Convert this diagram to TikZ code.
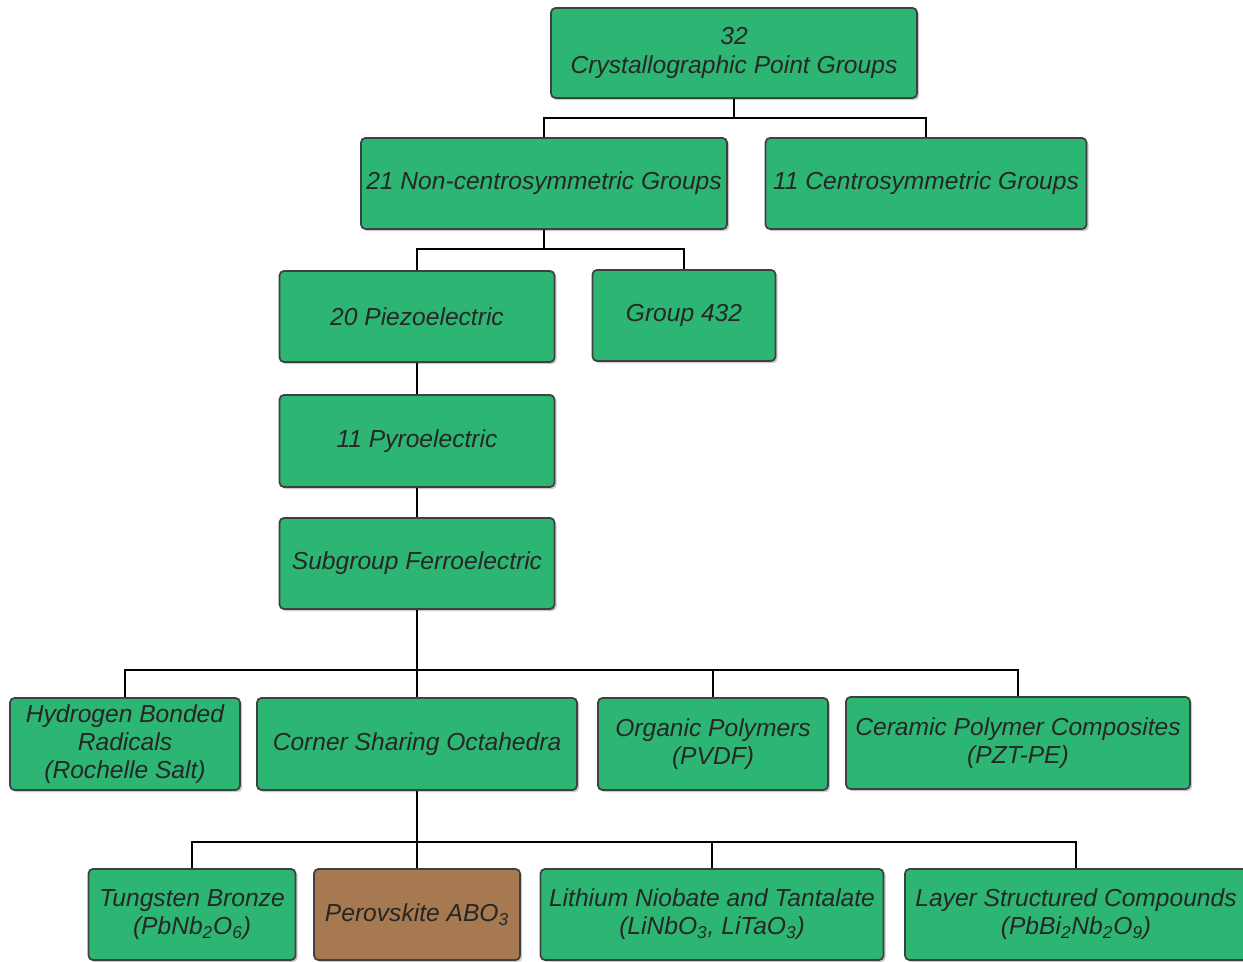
\documentclass[tikz,border=0pt]{standalone}
\usepackage{fontspec}
\setmainfont{Liberation Sans}
\usetikzlibrary{shadows}
\definecolor{boxgreen}{HTML}{2DB673}
\definecolor{boxbrown}{HTML}{A77950}
\tikzset{
  grpbox/.style={draw=black!75, line width=1pt, fill=boxgreen, rounded corners=2.5pt,
    align=center, inner sep=2pt, text=black!85, font=\fontsize{14}{16}\selectfont\itshape,
    drop shadow={shadow xshift=1.2pt, shadow yshift=-1.2pt, fill=black!35, opacity=0.6}},
  link/.style={line width=1.1pt}
}
\begin{document}
\begin{tikzpicture}[x=0.02cm, y=-0.02cm]
        \useasboundingbox (0,0) rectangle (1243,962);
        % Nodes (top to bottom)
        \node (points) at (734,53) [grpbox, minimum width=7.32cm, minimum height=1.8cm] {32\\Crystallographic Point Groups};

        \node (noncentro) at (544,183.5) [grpbox, minimum width=7.32cm, minimum height=1.82cm] {21 Non-centrosymmetric Groups};
        \node (centro) at (926,183.5) [grpbox, minimum width=6.42cm, minimum height=1.82cm] {11 Centrosymmetric Groups};

        \node (piezo) at (417,316.5) [grpbox, minimum width=5.5cm, minimum height=1.82cm] {20 Piezoelectric};
        \node (g432) at (684,315.5) [grpbox, minimum width=3.66cm, minimum height=1.82cm] {Group 432};

        \node (pyro) at (417,441) [grpbox, minimum width=5.5cm, minimum height=1.84cm] {11 Pyroelectric};
        \node (ferro) at (417,563.5) [grpbox, minimum width=5.5cm, minimum height=1.82cm] {Subgroup Ferroelectric};

        \node (hydrogen) at (125,744) [grpbox, minimum width=4.6cm, minimum height=1.84cm] {Hydrogen Bonded\\Radicals\\(Rochelle Salt)};
        \node (corner) at (417,744) [grpbox, minimum width=6.4cm, minimum height=1.84cm] {Corner Sharing Octahedra};
        \node (organic) at (713,744) [grpbox, minimum width=4.6cm, minimum height=1.84cm] {Organic Polymers\\(PVDF)};
        \node (ceramic) at (1018,743) [grpbox, minimum width=6.88cm, minimum height=1.84cm] {Ceramic Polymer Composites\\(PZT-PE)};

        \node (tungsten) at (192,914.5) [grpbox, minimum width=4.14cm, minimum height=1.82cm] {Tungsten Bronze\\(PbNb\textsubscript{2}O\textsubscript{6})};
        \node (perovskite) at (417,914.5) [grpbox, fill=boxbrown, minimum width=4.12cm, minimum height=1.82cm] {Perovskite ABO\textsubscript{3}};
        \node (lithium) at (712,914.5) [grpbox, minimum width=6.86cm, minimum height=1.82cm] {Lithium Niobate and Tantalate\\(LiNbO\textsubscript{3}, LiTaO\textsubscript{3})};
        \node (layer) at (1076,914.5) [grpbox, minimum width=6.84cm, minimum height=1.82cm] {Layer Structured Compounds\\(PbBi\textsubscript{2}Nb\textsubscript{2}O\textsubscript{9})};

        % Junctions
        \coordinate (jpoints) at (734,118);
        \coordinate (jnoncentro) at (544,249);
        \coordinate (jferro) at (417,670);
        \coordinate (jcorner) at (417,842);

        % Edges (point groups)
        \draw[link] (points) -- (jpoints);
        \draw[link] (jpoints) -| (noncentro);
        \draw[link] (jpoints) -| (centro);

        % Edges (non-centrosymmetric)
        \draw[link] (noncentro) -- (jnoncentro);
        \draw[link] (jnoncentro) -| (piezo);
        \draw[link] (jnoncentro) -| (g432);
        \draw[link] (piezo) -- (pyro);
        \draw[link] (pyro) -- (ferro);

        % Edges (ferroelectric families)
        \draw[link] (ferro) -- (jferro);
        \draw[link] (jferro) -| (hydrogen);
        \draw[link] (jferro) -| (corner);
        \draw[link] (jferro) -| (organic);
        \draw[link] (jferro) -| (ceramic);

        % Edges (octahedra families)
        \draw[link] (corner) -- (jcorner);
        \draw[link] (jcorner) -| (tungsten);
        \draw[link] (jcorner) -| (perovskite);
        \draw[link] (jcorner) -| (lithium);
        \draw[link] (jcorner) -| (layer);
      \end{tikzpicture}
\end{document}
